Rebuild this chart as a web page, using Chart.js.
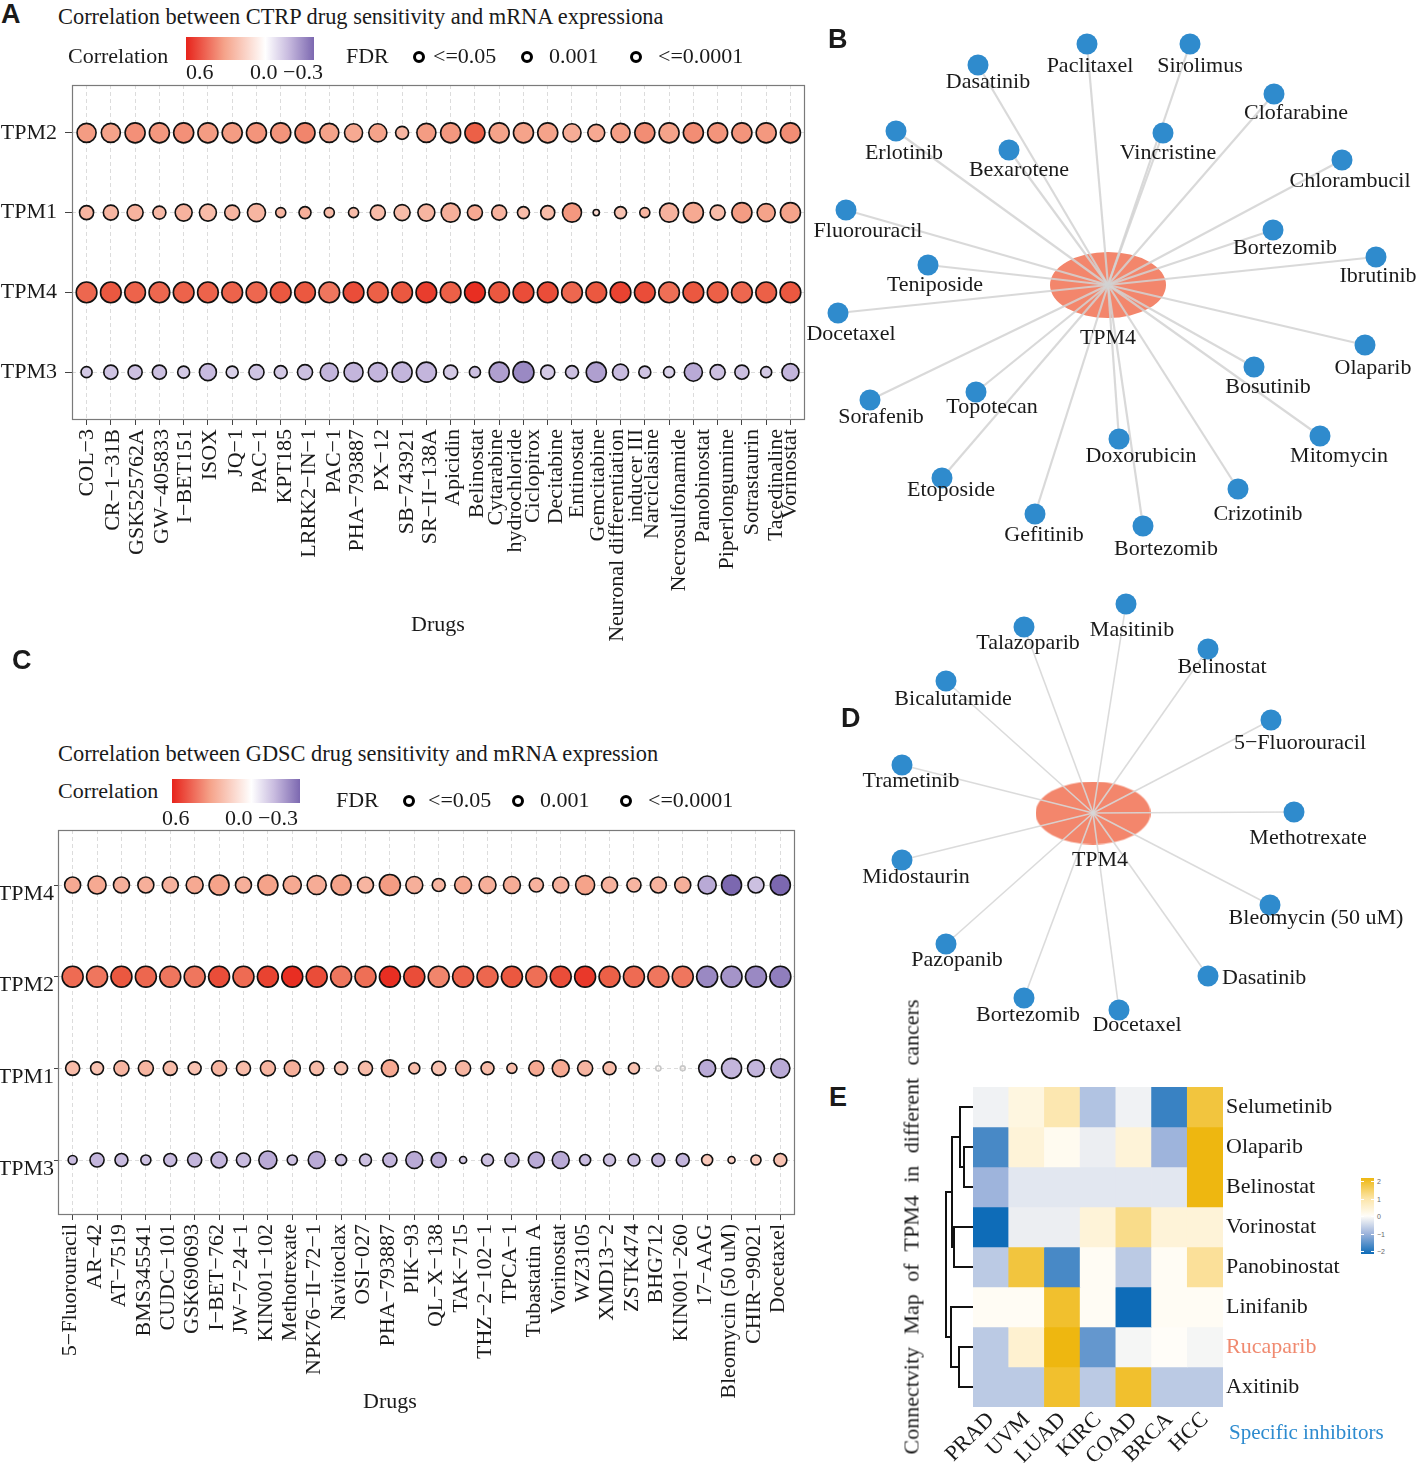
<!DOCTYPE html>
<html><head><meta charset="utf-8">
<script src="https://cdn.jsdelivr.net/npm/chart.js@4.4.0/dist/chart.umd.min.js"></script>
<style>
html,body{margin:0;padding:0;background:#fff;}
body{width:1417px;height:1463px;position:relative;overflow:hidden;font-family:"Liberation Serif","Times New Roman",serif;color:#1a1a1a;}
canvas{position:absolute;}
.abs{position:absolute;}
.t{position:absolute;font-size:22px;line-height:22px;white-space:nowrap;}
.letter{position:absolute;font-family:"Liberation Sans",Arial,sans-serif;font-weight:bold;font-size:27px;line-height:27px;}
.ring{position:absolute;width:6px;height:6px;border:3px solid #000;border-radius:50%;background:#fff;}
.cbt{position:absolute;font-size:7px;line-height:7px;color:#666;font-family:"Liberation Sans",sans-serif;}
.cbm{position:absolute;height:1px;background:#fff;}
</style></head>
<body>
<canvas id="cA" width="815" height="587" style="left:0;top:63px"></canvas>
<canvas id="cB" width="617" height="540" style="left:800px;top:30px"></canvas>
<canvas id="cC" width="805" height="599" style="left:0;top:816px"></canvas>
<canvas id="cD" width="577" height="455" style="left:840px;top:590px"></canvas>
<canvas id="cE" width="423" height="393" style="left:920px;top:1070px"></canvas>
<canvas id="cDen" width="33" height="320" style="left:940px;top:1087px"></canvas>

<!-- Panel A header -->
<div class="letter" style="left:1px;top:1px">A</div>
<div class="t" style="left:58px;top:6px;font-size:22.4px">Correlation between CTRP drug sensitivity and mRNA expressiona</div>
<div class="t" style="left:68px;top:45px">Correlation</div>
<div id="gradA" class="abs" style="left:186px;top:37px;width:128px;height:23px"></div>
<div class="t" style="left:186px;top:61px">0.6</div>
<div class="t" style="left:250px;top:61px">0.0 −0.3</div>
<div class="t" style="left:346px;top:45px">FDR</div>
<div class="ring" style="left:413px;top:51px"></div><div class="t" style="left:433px;top:45px">&lt;=0.05</div>
<div class="ring" style="left:521px;top:51px"></div><div class="t" style="left:549px;top:45px">0.001</div>
<div class="ring" style="left:630px;top:51px"></div><div class="t" style="left:658px;top:45px">&lt;=0.0001</div>
<div class="t" style="left:411px;top:613px">Drugs</div>

<!-- Panel C header -->
<div class="letter" style="left:12px;top:647px">C</div>
<div class="t" style="left:58px;top:743px;font-size:22.4px">Correlation between GDSC drug sensitivity and mRNA expression</div>
<div class="t" style="left:58px;top:780px">Correlation</div>
<div id="gradC" class="abs" style="left:172px;top:779px;width:128px;height:24px"></div>
<div class="t" style="left:162px;top:807px">0.6</div>
<div class="t" style="left:225px;top:807px">0.0 −0.3</div>
<div class="t" style="left:336px;top:789px">FDR</div>
<div class="ring" style="left:403px;top:795px"></div><div class="t" style="left:428px;top:789px">&lt;=0.05</div>
<div class="ring" style="left:512px;top:795px"></div><div class="t" style="left:540px;top:789px">0.001</div>
<div class="ring" style="left:620px;top:795px"></div><div class="t" style="left:648px;top:789px">&lt;=0.0001</div>
<div class="t" style="left:363px;top:1390px">Drugs</div>

<div class="letter" style="left:828px;top:26px">B</div>
<div class="letter" style="left:841px;top:705px">D</div>
<div class="letter" style="left:829px;top:1084px">E</div>

<div class="t" style="left:684px;top:1216px;width:455px;transform:rotate(-90deg);transform-origin:center;text-align:justify;text-align-last:justify;">Connectvity Map of TPM4 in different cancers</div>
<div class="t" style="left:1229px;top:1421px;font-size:21px;color:#2D8BCF">Specific inhibitors</div>
<div id="cbar" class="abs" style="left:1361px;top:1178px;width:13px;height:76px"></div>
<div id="cbarTicks"></div>

<script>
// ---------------- DATA ----------------
// Panel A (CTRP)
const ctrpDrugs = ["COL−3","CR−1−31B","GSK525762A","GW−405833","I−BET151","ISOX","JQ−1","PAC−1","KPT185","LRRK2−IN−1","PAC−1","PHA−793887","PX−12","SB−743921","SR−II−138A","Apicidin","Belinostat",["Cytarabine","hydrochloride"],"Ciclopirox","Decitabine","Entinostat","Gemcitabine",["Neuronal differentiation","inducer III"],"Narciclasine","Necrosulfonamide","Panobinostat","Piperlongumine","Sotrastaurin","Tacedinaline","Vorinostat"];
const ctrpGenes = ["TPM2","TPM1","TPM4","TPM3"];
const ctrpCorTPM2 = [0.32,0.30,0.35,0.33,0.35,0.32,0.32,0.34,0.34,0.38,0.30,0.28,0.30,0.24,0.32,0.33,0.48,0.30,0.30,0.30,0.27,0.28,0.31,0.36,0.30,0.36,0.34,0.34,0.33,0.36];
const ctrpCorTPM1 = [0.24,0.24,0.25,0.23,0.25,0.22,0.24,0.24,0.24,0.26,0.22,0.22,0.22,0.22,0.24,0.26,0.28,0.25,0.22,0.22,0.33,0.12,0.20,0.24,0.25,0.28,0.22,0.32,0.30,0.30];
const ctrpCorTPM4 = [0.46,0.50,0.47,0.46,0.47,0.47,0.47,0.46,0.50,0.50,0.42,0.52,0.48,0.50,0.55,0.48,0.58,0.50,0.52,0.52,0.46,0.50,0.54,0.52,0.44,0.50,0.48,0.46,0.48,0.50];
const ctrpCorTPM3 = [-0.12,-0.13,-0.14,-0.14,-0.12,-0.15,-0.10,-0.13,-0.12,-0.14,-0.16,-0.16,-0.16,-0.16,-0.16,-0.12,-0.14,-0.20,-0.24,-0.12,-0.14,-0.20,-0.15,-0.13,-0.10,-0.18,-0.14,-0.14,-0.12,-0.16];
// -log10(FDR)
const ctrpSigTPM2 = [9.4,9.4,10,10,10,10,10,10,10,10,9.4,8.8,8.8,5.6,9.4,10,10,10,10,10,8.8,8.1,9.4,10,10,10,10,10,10,10];
const ctrpSigTPM1 = [6.3,6.9,7.5,5.6,8.1,8.1,6.9,8.8,3.8,5,3.8,3.8,6.9,7.5,8.1,9.4,6.9,6.9,5,6.3,9.4,1.4,5,3.8,9.4,10,6.9,10,8.8,10];
const ctrpSigTPM4 = [10.4,10.4,10.4,10.4,10.4,10.4,10.4,10.4,10.4,10.4,10.4,10.4,10.4,10.4,10.4,10.4,10.4,10.4,10.4,10.4,10.4,10.4,10.4,10.4,10.4,10.4,10.4,10.4,10.4,10.4];
const ctrpSigTPM3 = [4.4,6.3,6.3,6.3,5,8.1,5,6.9,5.6,6.9,8.8,9.4,9.4,10,10,6.3,4.4,10,10.6,6.3,5.6,10,7.5,5,4.4,8.8,6.9,6.3,4.4,8.1];

// Panel C (GDSC)
const gdscDrugs = ["5−Fluorouracil","AR−42","AT−7519","BMS345541","CUDC−101","GSK690693","I−BET−762","JW−7−24−1","KIN001−102","Methotrexate","NPK76−II−72−1","Navitoclax","OSI−027","PHA−793887","PIK−93","QL−X−138","TAK−715","THZ−2−102−1","TPCA−1","Tubastatin A","Vorinostat","WZ3105","XMD13−2","ZSTK474","BHG712","KIN001−260","17−AAG","Bleomycin (50 uM)","CHIR−99021","Docetaxel"];
const gdscGenes = ["TPM4","TPM2","TPM1","TPM3"];
const gdscCorTPM4 = [0.28,0.28,0.26,0.26,0.25,0.28,0.30,0.26,0.30,0.28,0.27,0.30,0.24,0.32,0.26,0.24,0.28,0.26,0.27,0.25,0.25,0.30,0.25,0.24,0.25,0.26,-0.18,-0.30,-0.14,-0.30];
const gdscCorTPM2 = [0.45,0.42,0.50,0.46,0.42,0.42,0.52,0.45,0.54,0.58,0.52,0.42,0.44,0.58,0.52,0.38,0.47,0.46,0.50,0.44,0.52,0.56,0.48,0.45,0.42,0.42,-0.24,-0.22,-0.24,-0.26];
const gdscCorTPM1 = [0.22,0.20,0.24,0.24,0.22,0.20,0.24,0.22,0.24,0.26,0.22,0.20,0.22,0.28,0.22,0.20,0.24,0.22,0.22,0.28,0.28,0.24,0.22,0.20,0.05,0.05,-0.18,-0.16,-0.16,-0.18];
const gdscCorTPM3 = [-0.15,-0.16,-0.15,-0.14,-0.15,-0.16,-0.16,-0.15,-0.18,-0.14,-0.18,-0.14,-0.14,-0.16,-0.18,-0.18,-0.12,-0.14,-0.16,-0.18,-0.18,-0.15,-0.14,-0.15,-0.16,-0.16,0.18,0.15,0.18,0.20];
const gdscSigTPM4 = [7.5,8.8,7.5,7.5,7.5,8.1,10,7.5,10,8.8,9.4,10,7.5,10.6,8.1,5.6,8.1,8.1,8.1,6.3,7.5,9.4,7.5,6.3,7.5,7.5,8.8,10,7.5,10];
const gdscSigTPM2 = [10.6,10.6,10.6,10.6,10.6,10.6,10.6,10.6,10.6,10.6,10.6,10.6,10.6,10.6,10.6,10.6,10.6,10.6,10.6,10.6,10.6,10.6,10.6,10.6,10.6,10.6,10.6,10.6,10.6,10.6];
const gdscSigTPM1 = [6.3,5.6,6.9,6.9,6.3,5.6,6.9,6.3,6.9,7.5,6.3,5.6,6.3,8.1,4.4,6.3,6.9,5.6,3.8,6.9,8.1,6.9,5.6,4.4,0.8,0.6,8.1,10,8.1,9.4];
const gdscSigTPM3 = [3.1,6.3,5.6,3.8,5.6,6.3,7.5,6.3,8.8,3.8,8.1,4.4,5,6.3,8.1,6.9,1.9,5,6.3,7.5,8.1,4.4,5,5,5.6,5.6,4.4,1.9,3.8,5.6];

// Panel B network (CTRP) – layout coordinates relative to TPM4 hub
const netBDrugs = ["Dasatinib","Paclitaxel","Sirolimus","Clofarabine","Erlotinib","Bexarotene","Vincristine","Chlorambucil","Fluorouracil","Bortezomib","Ibrutinib","Teniposide","Docetaxel","Olaparib","Bosutinib","Sorafenib","Topotecan","Mitomycin","Doxorubicin","Etoposide","Crizotinib","Gefitinib","Bortezomib"];
const netBX = [-130,-21,82,166,-212,-99,55,234,-262,165,268,-180,-270,257,146,-238,-132,212,11,-166,130,-73,35];
const netBY = [-220,-241,-241,-191,-154,-135,-152,-125,-75,-55,-28,-20,28,60,82,115,107,151,154,193,204,229,241];

// Panel D network (GDSC)
const netDDrugs = ["Talazoparib","Masitinib","Belinostat","Bicalutamide","5−Fluorouracil","Trametinib","Methotrexate","Midostaurin","Bleomycin (50 uM)","Pazopanib","Dasatinib","Bortezomib","Docetaxel"];
const netDX = [-69,33,115,-147,178,-191,201,-191,177,-147,115,-69,26];
const netDY = [-186,-209,-164,-132,-93,-48,-1,47,92,131,163,185,197];

// Panel E heatmap
const heatDrugs = ["Selumetinib","Olaparib","Belinostat","Vorinostat","Panobinostat","Linifanib","Rucaparib","Axitinib"];
const heatCancers = ["PRAD","UVM","LUAD","KIRC","COAD","BRCA","HCC"];
const heatSelumetinib = [-0.15,0.3,0.9,-0.8,-0.15,-1.7,1.7];
const heatOlaparib = [-1.6,0.4,0.1,-0.2,0.4,-1.0,2.0];
const heatBelinostat = [-1.0,-0.3,-0.3,-0.3,-0.3,-0.3,2.0];
const heatVorinostat = [-2.0,-0.2,-0.2,0.4,1.2,0.4,0.4];
const heatPanobinostat = [-0.7,1.7,-1.6,0.05,-0.7,0.05,1.1];
const heatLinifanib = [0.05,0.05,1.8,0.05,-2.0,0.05,0.05];
const heatRucaparib = [-0.7,0.5,2.0,-1.4,-0.1,0.0,-0.1];
const heatAxitinib = [-0.7,-0.7,1.8,-0.7,1.8,-0.7,-0.7];
// dendrogram (hclust style: negative = leaf index+1, positive = earlier merge)
const dendroMerge = [[-2,-3],[-1,1],[-4,-5],[2,3],[-7,-8],[-6,5],[4,6]];
const dendroHeight = [9,13,19,21,14,22,27];
const colorbarTicks = [2,1,0,-1,-2];

// ---------------- STYLE (text placement only) ----------------
const netBLabelOffsets = [[10,17],[3,22],[10,22],[22,19],[8,22],[10,20],[5,20],[8,21],[22,21],[12,18],[2,19],[7,20],[13,21],[8,23],[14,20],[11,17],[16,15],[19,20],[22,17],[9,12],[20,25],[9,21],[23,23]];
const netDLabelOffsets = [[4,16],[6,26],[14,18],[7,18],[29,23],[9,16],[14,26],[14,17],[46,13],[11,16],[56,2],[4,17],[18,15]];
const ctrpLabelNudge = [1,2,2,3,2,2,4,4,4,4,5,4,4,5,4,3,2,7,10,8,5,2,6,7,10,10,10,10,10,0];

// ---------------- HELPERS ----------------
Chart.defaults.font.family = "'Liberation Serif','Times New Roman',serif";
Chart.defaults.color = '#1a1a1a';
Chart.defaults.animation = false;
Chart.defaults.events = [];
Chart.defaults.plugins.legend.display = false;
Chart.defaults.plugins.tooltip.enabled = false;
Chart.defaults.layout.autoPadding = false;

function mix(a,b,t){return a.map((v,i)=>Math.round(v+(b[i]-v)*t));}
function rgb(c,a){return a===undefined?`rgb(${c[0]},${c[1]},${c[2]})`:`rgba(${c[0]},${c[1]},${c[2]},${a})`;}
function ramp(stops,v){
  if(v<=stops[0][0]) return stops[0][1];
  for(let i=0;i<stops.length-1;i++){const [a,ca]=stops[i],[b,cb]=stops[i+1]; if(v<=b) return mix(ca,cb,(v-a)/(b-a));}
  return stops[stops.length-1][1];
}
const CORR_STOPS=[[-0.3,[124,104,176]],[-0.15,[200,187,223]],[0,[255,255,255]],[0.3,[245,163,138]],[0.5,[235,88,64]],[0.6,[231,35,27]]];
const HEAT_STOPS=[[-2,[14,108,184]],[-1,[158,180,220]],[0,[255,253,248]],[1,[252,229,168]],[2,[238,183,16]]];
const corrColor=v=>ramp(CORR_STOPS,v);
const heatColor=v=>rgb(ramp(HEAT_STOPS,v));
const radiusOf=s=>2+0.8*s;

function corrGradient(){
  return `linear-gradient(to right, ${rgb(corrColor(0.6))} 0%, ${rgb(corrColor(0.3))} 30%, #fff 62%, ${rgb(corrColor(-0.15))} 80%, ${rgb(corrColor(-0.3))} 100%)`;
}
document.getElementById('gradA').style.background=corrGradient();
document.getElementById('gradC').style.background=corrGradient();

const boxPlugin={id:'box',afterDraw(chart){const {ctx,chartArea:a}=chart;ctx.save();ctx.strokeStyle='#7a7a7a';ctx.lineWidth=1.2;ctx.strokeRect(a.left+0.5,a.top+0.5,a.right-a.left-1,a.bottom-a.top-1);ctx.restore();}};

// rotated x labels placed on the scale's ticks (multi-line blocks centred on the tick)
const xLabelPlugin={id:'xlabels',afterDraw(chart,args,opts){
  const s=chart.scales.x,ctx=chart.ctx;
  ctx.save();ctx.font='22px "Liberation Serif"';ctx.fillStyle='#1a1a1a';ctx.textAlign='right';ctx.textBaseline='middle';
  s.ticks.forEach(t=>{
    const lab=opts.labels[t.value];const lines=Array.isArray(lab)?lab:[lab];
    const nudge=Array.isArray(opts.nudge)?opts.nudge[t.value]:opts.nudge;
    const x=s.getPixelForValue(t.value)+nudge;
    lines.forEach((ln,j)=>{const dx=(j-(lines.length-1)/2)*opts.lh;
      ctx.save();ctx.translate(x+dx,s.top+opts.offset);ctx.rotate(-Math.PI/2);ctx.fillText(ln,0,0);ctx.restore();});
  });
  ctx.restore();}};

function buildBubble(id,drugs,genes,corrRows,sigRows,o){
  const datasets=genes.map((g,gi)=>({
    label:g,
    data:drugs.map((d,di)=>({x:di,y:gi,r:radiusOf(sigRows[gi][di]),c:corrRows[gi][di],s:sigRows[gi][di]})),
    backgroundColor:ctx=>ctx.raw?(ctx.raw.s<1.3?rgb(corrColor(ctx.raw.c),0.35):rgb(corrColor(ctx.raw.c))):'#fff',
    borderColor:ctx=>ctx.raw&&ctx.raw.s<1.3?'#c8c8c8':'#111',
    borderWidth:1.6
  }));
  const gridOpt={color:'#dcdcdc',lineWidth:1,tickLength:o.tl,tickColor:'#444',tickWidth:1,tickBorderDash:[]};
  return new Chart(document.getElementById(id),{
    type:'bubble',data:{datasets},
    options:{responsive:false,clip:false,layout:{padding:o.pad,autoPadding:false},
      plugins:{xlabels:{labels:drugs,lh:19,nudge:o.nudge,offset:9}},
      scales:{
        x:{type:'linear',min:-0.6,max:drugs.length-0.4,
          afterBuildTicks:s=>{s.ticks=drugs.map((d,i)=>({value:i}));},
          afterFit:s=>{s.height=o.xh;},
          ticks:{display:false,autoSkip:false},
          grid:{...gridOpt,tickLength:5},border:{display:false,dash:[4,3]}},
        y:{type:'linear',min:-0.6,max:genes.length-0.4,reverse:true,
          afterBuildTicks:s=>{s.ticks=genes.map((g,i)=>({value:i}));},
          afterFit:s=>{s.width=o.yw;},
          ticks:{padding:o.ypad,labelOffset:o.yoff,font:{size:22},callback:v=>genes[v]},
          grid:gridOpt,border:{display:false,dash:[4,3]}}
      }},
    plugins:[boxPlugin,xLabelPlugin]
  });
}

buildBubble('cA',ctrpDrugs,ctrpGenes,[ctrpCorTPM2,ctrpCorTPM1,ctrpCorTPM4,ctrpCorTPM3],[ctrpSigTPM2,ctrpSigTPM1,ctrpSigTPM4,ctrpSigTPM3],
  {pad:{top:22,right:10,left:0,bottom:0},xh:230,yw:72,ypad:8,yoff:0,tl:7,nudge:ctrpLabelNudge});
buildBubble('cC',gdscDrugs,gdscGenes,[gdscCorTPM4,gdscCorTPM2,gdscCorTPM1,gdscCorTPM3],[gdscSigTPM4,gdscSigTPM2,gdscSigTPM1,gdscSigTPM3],
  {pad:{top:14,right:10,left:0,bottom:0},xh:200,yw:58,ypad:0,yoff:9,tl:4,nudge:-2});

// ---------------- NETWORKS ----------------
const netLabelPlugin={id:'netLabels',afterDatasetsDraw(chart,args,opts){
  const ctx=chart.ctx;const meta=chart.getDatasetMeta(0);
  ctx.save();ctx.font='22px "Liberation Serif"';ctx.fillStyle='#1a1a1a';ctx.textBaseline='middle';ctx.textAlign='center';
  meta.data.forEach((pt,i)=>{const n=opts.names[i];const off=opts.offsets[i];
    if(opts.right.includes(n)){ctx.textAlign='left';ctx.fillText(n,pt.x+14,pt.y+off[1]);ctx.textAlign='center';}
    else{ctx.fillText(n,pt.x+off[0],pt.y+off[1]);}});
  const hub=chart.getDatasetMeta(chart.data.datasets.length-1).data[0];
  ctx.fillText('TPM4',hub.x+opts.hx,hub.y+opts.hy);
  ctx.restore();}};

function buildNet(id,names,xs,ys,o){
  const ell=document.createElement('canvas');ell.width=o.ew;ell.height=o.eh;
  const ec=ell.getContext('2d');ec.fillStyle='#F3866C';ec.beginPath();ec.ellipse(o.ew/2,o.eh/2,o.ew/2,o.eh/2,0,0,Math.PI*2);ec.fill();
  const datasets=[
    {label:'drugs',data:names.map((n,i)=>({x:xs[i],y:ys[i]})),pointRadius:o.nr,backgroundColor:'#2F8BCD',borderWidth:0},
    ...names.map((n,i)=>({label:'edge',data:[{x:0,y:0},{x:xs[i],y:ys[i]}],showLine:true,borderColor:o.ec,borderWidth:o.lw,pointRadius:0})),
    {label:'TPM4',data:[{x:0,y:0}],pointStyle:ell,pointRadius:30}
  ];
  return new Chart(document.getElementById(id),{type:'scatter',data:{datasets},
    options:{responsive:false,clip:false,layout:{padding:0,autoPadding:false},
      scales:{x:{display:false,min:o.xmin,max:o.xmax},y:{display:false,min:o.ymin,max:o.ymax,reverse:true}},
      plugins:{netLabels:{names,offsets:o.offsets,right:o.right,hx:o.hx,hy:o.hy}}},
    plugins:[netLabelPlugin]});
}
buildNet('cB',netBDrugs,netBX,netBY,{ew:116,eh:66,nr:10.5,lw:2.2,ec:'rgba(210,210,210,0.85)',xmin:-308,xmax:309,ymin:-255,ymax:285,right:[],offsets:netBLabelOffsets,hx:0,hy:53});
buildNet('cD',netDDrugs,netDX,netDY,{ew:115,eh:63,nr:10.5,lw:1.6,ec:'rgba(215,215,215,0.9)',xmin:-253,xmax:324,ymin:-223,ymax:232,right:['Dasatinib'],offsets:netDLabelOffsets,hx:7,hy:47});

// ---------------- HEATMAP ----------------
const heatRows=[heatSelumetinib,heatOlaparib,heatBelinostat,heatVorinostat,heatPanobinostat,heatLinifanib,heatRucaparib,heatAxitinib];
new Chart(document.getElementById('cE'),{type:'bar',
  data:{labels:heatCancers,datasets:heatRows.map((vals,r)=>({label:heatDrugs[r],data:vals.map(()=>[r-0.5,r+0.5]),
    backgroundColor:vals.map(heatColor),borderWidth:0,grouped:false,barPercentage:1,categoryPercentage:1}))},
  options:{responsive:false,layout:{padding:{left:53,top:17,right:0,bottom:0},autoPadding:false},
    scales:{
      x:{afterFit:s=>{s.height=56;},ticks:{minRotation:45,maxRotation:45,autoSkip:false,padding:0,font:{size:22}},grid:{display:false,drawTicks:false},border:{display:false}},
      y:{type:'linear',position:'right',min:-0.5,max:7.5,reverse:true,
        afterBuildTicks:s=>{s.ticks=heatDrugs.map((d,i)=>({value:i}));},
        afterFit:s=>{s.width=120;},
        ticks:{padding:3,font:{size:22},callback:v=>heatDrugs[v],color:c=>heatDrugs[c.index]==='Rucaparib'?'#F08A70':'#1a1a1a'},
        grid:{display:false,drawTicks:false},border:{display:false}}
    }}});

// dendrogram
(function(){
  const pos=[];
  const datasets=[];
  dendroMerge.forEach((m,k)=>{
    const pts=m.map(c=>c<0?{h:0,y:-c-1}:pos[c-1]);
    const h=dendroHeight[k];
    datasets.push({data:[{x:pts[0].h,y:pts[0].y},{x:h,y:pts[0].y},{x:h,y:pts[1].y},{x:pts[1].h,y:pts[1].y}],
      showLine:true,borderColor:'#111',borderWidth:2,pointRadius:0,tension:0});
    pos.push({h,y:(pts[0].y+pts[1].y)/2});
  });
  new Chart(document.getElementById('cDen'),{type:'scatter',data:{datasets},
    options:{responsive:false,clip:false,layout:{padding:0,autoPadding:false},
      scales:{x:{display:false,min:0,max:33,reverse:true},y:{display:false,min:-0.5,max:7.5,reverse:true}}}});
})();

// colorbar
(function(){
  const bar=document.getElementById('cbar');
  bar.style.background=`linear-gradient(to bottom, ${heatColor(2)} 0%, ${heatColor(1)} 27%, ${heatColor(0)} 50%, ${heatColor(-1)} 73%, ${heatColor(-2)} 100%)`;
  const holder=document.getElementById('cbarTicks');
  colorbarTicks.forEach(v=>{
    const y=1216-v*17.5;
    holder.insertAdjacentHTML('beforeend',`<div class="cbm" style="left:1361px;top:${y}px;width:3px"></div><div class="cbm" style="left:1371px;top:${y}px;width:3px"></div><div class="cbt" style="left:1377px;top:${y-3}px">${v<0?'−'+(-v):v}</div>`);
  });
})();
</script>
</body></html>
